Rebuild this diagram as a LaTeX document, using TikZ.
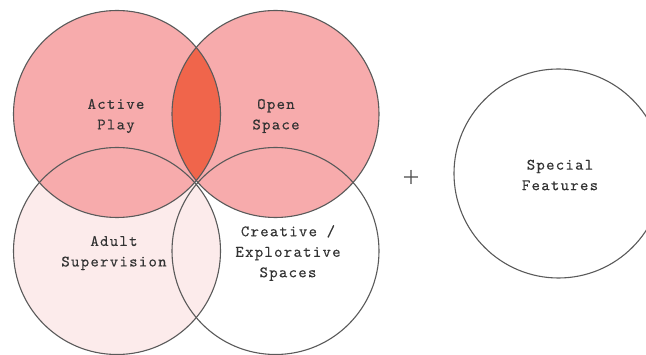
\documentclass[tikz,border=0pt]{standalone}
\usepackage{fontspec}
\newfontfamily\lblfont[LetterSpace=8,FakeBold=0.15]{lmmono10-regular.otf}
\newfontfamily\plusfont[FakeBold=1.2]{lmroman10-regular.otf}
\definecolor{pinkfill}{HTML}{F7ABAC}
\definecolor{lensfill}{HTML}{F0654B}
\definecolor{lightpink}{HTML}{FCEBEB}
\definecolor{edge}{HTML}{5A5A5A}
\definecolor{txt}{HTML}{333333}
\tikzset{
  ring/.style={draw=edge, line width=1.1pt},
  lbl/.style={align=center, font=\lblfont\fontsize{16}{20.5}\selectfont, text=txt, inner sep=0pt}
}
\begin{document}
\begin{tikzpicture}[x=1pt,y=-1pt]
\useasboundingbox (0,0) rectangle (646,355);
\def\R{103.5}
% centres
\coordinate (ap) at (117,114);
\coordinate (os) at (275.5,114);
\coordinate (as) at (117,251);
\coordinate (ce) at (275.5,251);
\coordinate (sf) at (558.5,173.5);
% fills
\fill[white] (ce) circle (\R);
\fill[lightpink] (as) circle (\R);
\fill[pinkfill] (ap) circle (\R);
\fill[pinkfill] (os) circle (\R);
\begin{scope}
  \clip (ap) circle (\R);
  \fill[lensfill] (os) circle (\R);
\end{scope}
% outlines
\draw[ring] (ce) circle (\R);
\draw[ring] (as) circle (\R);
\draw[ring] (ap) circle (\R);
\draw[ring] (os) circle (\R);
\draw[ring] (sf) circle (104.5);
% labels
\node[lbl] (tap) at (116,116) {Active\\Play};
\node[lbl] (tos) at (276,116) {Open\\Space};
\node[lbl] (tas) at (114,253) {Adult\\Supervision};
\node[lbl] (tce) at (288,253) {Creative /\\Explorative\\Spaces};
\node[lbl] (tsf) at (560,175) {Special\\Features};
\node[text=txt, inner sep=0pt, font=\plusfont\fontsize{21}{21}\selectfont] (plus) at (411,177) {+};
\end{tikzpicture}
\end{document}
